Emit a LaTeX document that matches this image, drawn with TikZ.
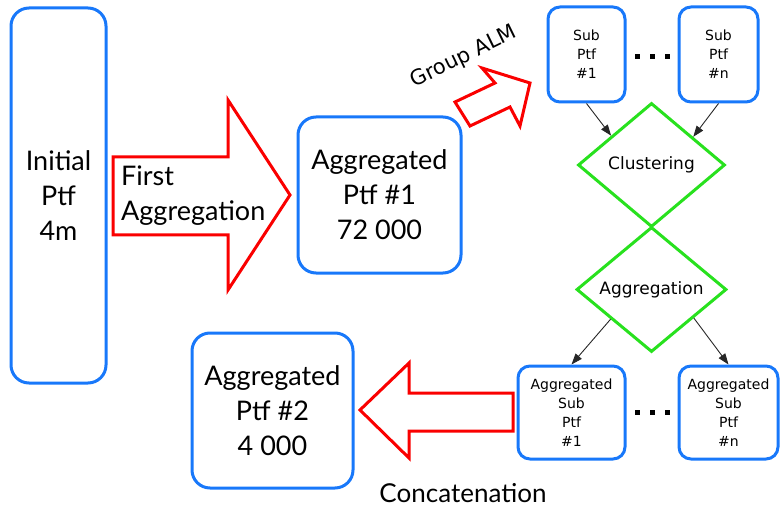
\documentclass[tikz,border=0pt]{standalone}
\usepackage{fontspec}
\setmainfont{Lato}
\newfontfamily\smallfont{DejaVu Sans}
\usetikzlibrary{shapes.geometric,arrows.meta,calc}
\definecolor{bluebox}{RGB}{24,120,250}
\definecolor{redarr}{RGB}{250,0,0}
\definecolor{greend}{RGB}{40,225,30}
\begin{document}
\begin{tikzpicture}[x=1pt,y=-1pt,
  bigbox/.style={draw=bluebox, line width=3pt, rounded corners=18pt, inner sep=0pt, align=center, font=\fontsize{27}{35}\selectfont},
  smallbox/.style={draw=bluebox, line width=3pt, rounded corners=12pt, inner sep=0pt, align=center, font=\smallfont\fontsize{14}{19}\selectfont},
  decision/.style={diamond, draw=greend, line width=3pt, inner sep=0pt, font=\smallfont\fontsize{17}{19}\selectfont},
  bigarrow/.style={draw=redarr, line width=3pt, line join=miter},
  conn/.style={draw=black!85, line width=0.9pt, -{Triangle[length=11pt,width=8pt]}},
  bigtext/.style={font=\fontsize{27}{35}\selectfont, align=left, inner sep=0pt}]
\useasboundingbox (0,0) rectangle (780,508);

% big boxes
\node[bigbox, minimum width=95pt, minimum height=375pt] (init) at (58.5,195.5) {Initial\\Ptf\\4m};
\node[bigbox, minimum width=163pt, minimum height=156pt] (agg1) at (379.5,195) {Aggregated\\Ptf \#1\\72 000};
\node[bigbox, minimum width=161pt, minimum height=155pt] (agg2) at (272.5,410.5) {Aggregated\\Ptf \#2\\4 000};

% small boxes
\node[smallbox, minimum width=77pt, minimum height=95pt] (sub1) at (586.5,54.5) {Sub\\Ptf\\\#1};
\node[smallbox, minimum width=79pt, minimum height=95pt] (subn) at (718.5,54.5) {Sub\\Ptf\\\#n};
\node[smallbox, minimum width=107pt, minimum height=93pt] (asub1) at (571.5,412.5) {Aggregated\\Sub\\Ptf\\\#1};
\node[smallbox, minimum width=99pt, minimum height=93pt] (asubn) at (728.5,412.5) {Aggregated\\Sub\\Ptf\\\#n};

% diamonds
\node[decision, minimum width=147pt, minimum height=124pt] (clus) at (651.5,165) {Clustering};
\node[decision, minimum width=150pt, minimum height=125pt] (aggd) at (651.5,289.5) {Aggregation};

% dots
\foreach \x in {637,652,667} {
  \fill (\x-2.5,54.5) rectangle (\x+2.5,59.5);
  \fill (\x-2.5,409.5) rectangle (\x+2.5,414.5);
}

% connectors
\draw[conn] (sub1.south) -- (clus.144);
\draw[conn] (subn.south) -- (clus.34);
\draw[conn] (aggd.216) -- (asub1.north);
\draw[conn] (aggd.326) -- (asubn.north);

% red block arrows
\draw[bigarrow] (113,157) -- (228,157) -- (228,100) -- (290,195) -- (228,290) -- (228,235) -- (113,235) -- cycle;
\draw[bigarrow] (455,102) -- (495,83) -- (482,68) -- (530,83) -- (520,126) -- (510,107) -- (470,126) -- cycle;
\draw[bigarrow] (513,393) -- (409,393) -- (409,363) -- (360,410) -- (409,458) -- (409,431) -- (513,431) -- cycle;

% labels
\node[bigtext, anchor=west] (firstlbl) at (121,196) {First\\Aggregation};
\node[font=\smallfont\fontsize{21}{24}\selectfont, rotate=26, inner sep=0pt] (grouplbl) at (464,57) {Group ALM};
\node[font=\fontsize{26}{30}\selectfont, inner sep=0pt] (concatlbl) at (463,493) {Concatenation};
\end{tikzpicture}
\end{document}
